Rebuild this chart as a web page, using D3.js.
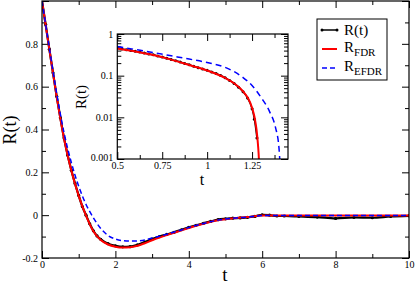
<!DOCTYPE html>
<html><head><meta charset="utf-8">
<script src="https://cdn.jsdelivr.net/npm/d3@7"></script>
<style>body{margin:0;background:#fff}svg{display:block}</style>
</head><body>
<svg id="chart" width="415" height="286"></svg>
<script>
// ---------- data (main panel) ----------
const mainT_R   = [0,0.1,0.2,0.3,0.4,0.5,0.6,0.7,0.8,0.9,1.0,1.1,1.2,1.3,1.4,1.5,1.6,1.8,2.0,2.2,2.4,2.6,2.8,3.0,3.2,3.4,3.6,3.8,4.0,4.2,4.4,4.6,4.8,5.0,5.2,5.4,5.6,5.8,6.0,6.2,6.4,6.6,7.0,7.5,8.0,8.5,9.0,9.5,10];
const mainR     = [1.0,0.89,0.775,0.665,0.555,0.455,0.36,0.28,0.21,0.148,0.092,0.04,0.0,-0.04,-0.073,-0.097,-0.113,-0.133,-0.143,-0.148,-0.147,-0.139,-0.126,-0.112,-0.1,-0.09,-0.08,-0.068,-0.057,-0.047,-0.038,-0.029,-0.021,-0.017,-0.014,-0.013,-0.01,-0.006,0.002,0.0,-0.004,-0.004,-0.006,-0.009,-0.015,-0.011,-0.012,-0.006,-0.003];
const mainT_FDR = [0,0.2,0.4,0.6,0.8,1.0,1.2,1.4,1.6,1.8,2.0,2.2,2.4,2.6,2.8,3.0,3.2,3.4,3.6,3.8,4.0,4.4,4.8,5.2,5.6,6.0,6.5,7,8,9,10];
const mainFDR   = [1.0,0.775,0.553,0.358,0.207,0.09,-0.002,-0.075,-0.116,-0.137,-0.147,-0.151,-0.15,-0.143,-0.131,-0.117,-0.104,-0.093,-0.082,-0.071,-0.06,-0.04,-0.024,-0.015,-0.009,-0.002,-0.002,-0.002,-0.002,-0.001,-0.001];
const mainT_EFDR= [0,0.2,0.4,0.6,0.8,1.0,1.2,1.4,1.6,1.8,2.0,2.2,2.4,2.6,2.8,3.0,3.2,3.4,3.6,3.8,4.0,4.4,4.8,5.2,5.6,6.0,6.5,7,8,9,10];
const mainEFDR  = [1.0,0.78,0.568,0.385,0.245,0.135,0.05,-0.012,-0.062,-0.095,-0.111,-0.119,-0.121,-0.12,-0.116,-0.107,-0.098,-0.089,-0.079,-0.069,-0.058,-0.039,-0.023,-0.014,-0.009,-0.002,-0.002,-0.002,-0.002,-0.001,-0.001];
const mainXTicks = [0,2,4,6,8,10];
const mainXMinor = [1,3,5,7,9];
const mainYTicks = [-0.2,0,0.2,0.4,0.6,0.8,1.0];
const mainYMinor = [-0.1,0.1,0.3,0.5,0.7,0.9];

// ---------- data (inset) ----------
const insT_R   = [0.5,0.525,0.55,0.575,0.6,0.625,0.65,0.675,0.7,0.725,0.75,0.775,0.8,0.825,0.85,0.875,0.9,0.925,0.95,0.975,1.0,1.025,1.05,1.075,1.1,1.125,1.15,1.175,1.2,1.225,1.25,1.263,1.277];
const insR     = [0.455,0.437,0.42,0.402,0.385,0.368,0.35,0.333,0.316,0.298,0.28,0.263,0.246,0.229,0.213,0.197,0.182,0.168,0.155,0.145,0.134,0.123,0.112,0.101,0.089,0.077,0.065,0.053,0.041,0.029,0.016,0.009,0.0032];
const insT_FDR = [0.5,0.6,0.7,0.8,0.9,1.0,1.1,1.15,1.2,1.225,1.25,1.265,1.275,1.283,1.288,1.291];
const insFDR   = [0.45,0.382,0.313,0.243,0.18,0.133,0.088,0.066,0.042,0.03,0.017,0.0095,0.005,0.0022,0.001,0.0004];
const insT_EFDR= [0.5,0.6,0.7,0.8,0.9,1.0,1.1,1.15,1.2,1.25,1.3,1.35,1.38,1.4,1.406];
const insEFDR  = [0.5,0.425,0.36,0.3,0.25,0.207,0.158,0.125,0.09,0.058,0.03,0.013,0.0058,0.0018,0.0007];
const insXTicks = [0.5,0.75,1,1.25];
const insXMinor = [0.625,0.875,1.125,1.375];
const insYTicks = [0.001,0.01,0.1,1];

// ---------- legend ----------
const legendNames = [["R(t)",""],["R","FDR"],["R","EFDR"]];

const svg = d3.select("#chart");
const SERIF = "Liberation Serif, Times New Roman, serif";
const zip = (a,b)=>a.map((t,i)=>[t,b[i]]);

// ===== main panel =====
const M = {l:42,r:409,t:1,b:258};
const x = d3.scaleLinear().domain([0,10]).range([M.l,M.r]);
const y = d3.scaleLinear().domain([-0.2,1.0]).range([M.b,M.t]);

svg.append("clipPath").attr("id","cm").append("rect")
  .attr("x",M.l).attr("y",M.t).attr("width",M.r-M.l).attr("height",M.b-M.t);

function styleAxis(g,fs){
  g.attr("font-family",SERIF).attr("font-size",fs);
  g.select(".domain").remove();
  g.selectAll("line").attr("stroke","#000").attr("stroke-width",1);
  g.selectAll("text").attr("font-family",SERIF).attr("font-size",fs).attr("fill","#000");
}
const fmt = d => d===1 ? "" : String(+d.toFixed(2));

svg.append("g").attr("transform",`translate(0,${M.b})`)
  .call(d3.axisBottom(x).tickValues(mainXTicks).tickSize(-7).tickPadding(3).tickFormat(fmt))
  .call(g=>styleAxis(g,10));
svg.append("g").attr("transform",`translate(0,${M.b})`)
  .call(d3.axisBottom(x).tickValues(mainXMinor).tickSize(-4).tickFormat(""))
  .call(g=>styleAxis(g,10));
svg.append("g").attr("transform",`translate(0,${M.t})`)
  .call(d3.axisTop(x).tickValues(mainXTicks).tickSize(-7).tickFormat(""))
  .call(g=>styleAxis(g,10));
svg.append("g").attr("transform",`translate(0,${M.t})`)
  .call(d3.axisTop(x).tickValues(mainXMinor).tickSize(-4).tickFormat(""))
  .call(g=>styleAxis(g,10));
svg.append("g").attr("transform",`translate(${M.l},0)`)
  .call(d3.axisLeft(y).tickValues(mainYTicks).tickSize(-7).tickPadding(4).tickFormat(fmt))
  .call(g=>styleAxis(g,10));
svg.append("g").attr("transform",`translate(${M.l},0)`)
  .call(d3.axisLeft(y).tickValues(mainYMinor).tickSize(-4).tickFormat(""))
  .call(g=>styleAxis(g,10));
svg.append("g").attr("transform",`translate(${M.r},0)`)
  .call(d3.axisRight(y).tickValues(mainYTicks).tickSize(-7).tickFormat(""))
  .call(g=>styleAxis(g,10));
svg.append("g").attr("transform",`translate(${M.r},0)`)
  .call(d3.axisRight(y).tickValues(mainYMinor).tickSize(-4).tickFormat(""))
  .call(g=>styleAxis(g,10));

const line = d3.line().x(d=>x(d[0])).y(d=>y(d[1])).curve(d3.curveMonotoneX);
const gm = svg.append("g").attr("clip-path","url(#cm)");
const dR = zip(mainT_R,mainR);
gm.append("path").attr("d",line(dR)).attr("fill","none").attr("stroke","#000").attr("stroke-width",2.2);
gm.selectAll("circle.m").data(dR).join("circle").attr("class","m")
  .attr("cx",d=>x(d[0])).attr("cy",d=>y(d[1])).attr("r",1.6).attr("fill","#000");
gm.append("path").attr("d",line(zip(mainT_FDR,mainFDR))).attr("fill","none").attr("stroke","#ff0000").attr("stroke-width",2);
gm.append("path").attr("d",line(zip(mainT_EFDR,mainEFDR))).attr("fill","none").attr("stroke","#0000ff").attr("stroke-width",1.5).attr("stroke-dasharray","5,3");

svg.append("rect").attr("x",M.l).attr("y",M.t).attr("width",M.r-M.l).attr("height",M.b-M.t)
  .attr("fill","none").attr("stroke","#000").attr("stroke-width",1.2);

svg.append("text").attr("x",225).attr("y",281).attr("text-anchor","middle")
  .attr("font-family",SERIF).attr("font-size",19).text("t");
svg.append("text").attr("transform","translate(16,130) rotate(-90)").attr("text-anchor","middle")
  .attr("font-family",SERIF).attr("font-size",18).text("R(t)");

// ===== inset =====
const I = {l:117.3,r:288,t:34,b:159};
const xi = d3.scaleLinear().domain([0.5,1.45]).range([I.l,I.r]);
const yi = d3.scaleLog().domain([0.001,1]).range([I.b,I.t]);
svg.append("rect").attr("x",I.l).attr("y",I.t).attr("width",I.r-I.l).attr("height",I.b-I.t).attr("fill","#fff");
svg.append("clipPath").attr("id","ci").append("rect")
  .attr("x",I.l).attr("y",I.t).attr("width",I.r-I.l).attr("height",I.b-I.t);

const minorLog = [];
insYTicks.slice(0,-1).forEach(d=>{ for(let k=2;k<=9;k++) minorLog.push(d*k); });
const ifmt = d => String(d);

svg.append("g").attr("transform",`translate(0,${I.b})`)
  .call(d3.axisBottom(xi).tickValues(insXTicks).tickSize(-7).tickPadding(3).tickFormat(ifmt))
  .call(g=>styleAxis(g,10));
svg.append("g").attr("transform",`translate(0,${I.b})`)
  .call(d3.axisBottom(xi).tickValues(insXMinor).tickSize(-4).tickFormat(""))
  .call(g=>styleAxis(g,10));
svg.append("g").attr("transform",`translate(0,${I.t})`)
  .call(d3.axisTop(xi).tickValues(insXTicks).tickSize(-7).tickFormat(""))
  .call(g=>styleAxis(g,10));
svg.append("g").attr("transform",`translate(0,${I.t})`)
  .call(d3.axisTop(xi).tickValues(insXMinor).tickSize(-4).tickFormat(""))
  .call(g=>styleAxis(g,10));
svg.append("g").attr("transform",`translate(${I.l},0)`)
  .call(d3.axisLeft(yi).tickValues(insYTicks).tickSize(-7).tickPadding(4).tickFormat(ifmt))
  .call(g=>styleAxis(g,10))
  .call(g=>g.selectAll(".tick text").filter(d=>d===0.001).attr("dy","0.15em"));
svg.append("g").attr("transform",`translate(${I.l},0)`)
  .call(d3.axisLeft(yi).tickValues(minorLog).tickSize(-4).tickFormat(""))
  .call(g=>styleAxis(g,10));
svg.append("g").attr("transform",`translate(${I.r},0)`)
  .call(d3.axisRight(yi).tickValues(insYTicks).tickSize(-7).tickFormat(""))
  .call(g=>styleAxis(g,10));
svg.append("g").attr("transform",`translate(${I.r},0)`)
  .call(d3.axisRight(yi).tickValues(minorLog).tickSize(-4).tickFormat(""))
  .call(g=>styleAxis(g,10));

const iline = d3.line().x(d=>xi(d[0])).y(d=>yi(d[1])).curve(d3.curveMonotoneX);
const gi = svg.append("g").attr("clip-path","url(#ci)");
const iR = zip(insT_R,insR);
gi.append("path").attr("d",iline(iR)).attr("fill","none").attr("stroke","#000").attr("stroke-width",1.5);
gi.selectAll("circle.i").data(iR).join("circle").attr("class","i")
  .attr("cx",d=>xi(d[0])).attr("cy",d=>yi(d[1])).attr("r",1.5).attr("fill","#000");
gi.append("path").attr("d",iline(zip(insT_FDR,insFDR))).attr("fill","none").attr("stroke","#ff0000").attr("stroke-width",2);
gi.append("path").attr("d",iline(zip(insT_EFDR,insEFDR))).attr("fill","none").attr("stroke","#0000ff").attr("stroke-width",1.5).attr("stroke-dasharray","6,4");

svg.append("rect").attr("x",I.l).attr("y",I.t).attr("width",I.r-I.l).attr("height",I.b-I.t)
  .attr("fill","none").attr("stroke","#000").attr("stroke-width",1.2);
svg.append("text").attr("x",202).attr("y",185).attr("text-anchor","middle")
  .attr("font-family",SERIF).attr("font-size",16).text("t");
svg.append("text").attr("transform","translate(86,97) rotate(-90)").attr("text-anchor","middle")
  .attr("font-family",SERIF).attr("font-size",15).text("R(t)");

// ===== legend =====
const L = {x:317,y:19,w:70,h:61};
svg.append("rect").attr("x",L.x).attr("y",L.y).attr("width",L.w).attr("height",L.h)
  .attr("fill","#fff").attr("stroke","#000").attr("stroke-width",1);
const ly = [30,49,68];
const lstyle = [{c:"#000",w:1.5,da:null},{c:"#ff0000",w:2,da:null},{c:"#0000ff",w:1.5,da:"5,3"}];
legendNames.forEach((n,i)=>{
  const s = lstyle[i];
  svg.append("line").attr("x1",322).attr("x2",337).attr("y1",ly[i]).attr("y2",ly[i])
    .attr("stroke",s.c).attr("stroke-width",s.w).attr("stroke-dasharray",s.da);
  if(i===0){
    [322,337].forEach(cx=>svg.append("circle").attr("cx",cx).attr("cy",ly[i]).attr("r",1.5).attr("fill","#000"));
  }
  const t = svg.append("text").attr("x",344).attr("y",ly[i]+(i===0?5:3))
    .attr("font-family",SERIF).attr("font-size",15).attr("fill","#000");
  t.append("tspan").text(n[0]);
  if(n[1]) t.append("tspan").attr("dy",4).attr("font-size",11).text(n[1]);
});
</script>
</body></html>
